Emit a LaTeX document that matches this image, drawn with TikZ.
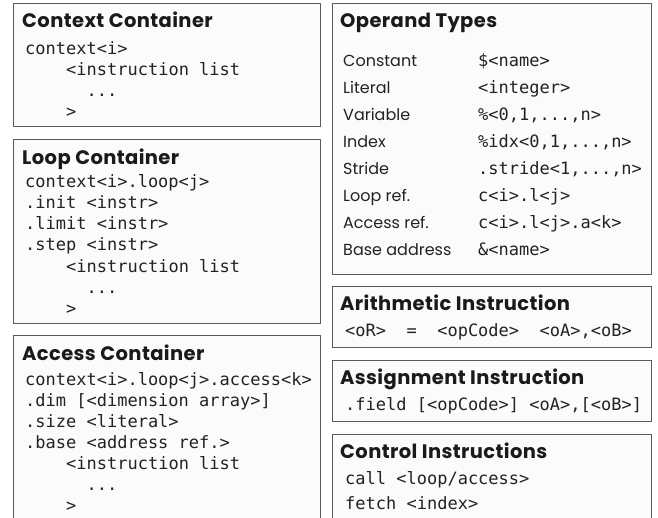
\documentclass[tikz,border=0pt]{standalone}
\usepackage{fontspec}
\setsansfont{Poppins}
\setmonofont{DejaVu Sans Mono}
\definecolor{bordc}{HTML}{5A5A5A}
\definecolor{boxfill}{HTML}{FBFBFB}
\definecolor{hdc}{HTML}{1A1A1A}
\definecolor{txc}{HTML}{222222}
\tikzset{
  box/.style={draw=bordc, line width=1.2bp, fill=boxfill, inner sep=0pt, anchor=north west},
  hd/.style={font=\sffamily\bfseries\fontsize{19.5bp}{22bp}\selectfont\addfontfeature{LetterSpace=2}, text=hdc, anchor=base west, inner sep=0pt},
  mono/.style={font=\ttfamily\fontsize{17bp}{20bp}\selectfont, text=txc, anchor=base west, inner sep=0pt},
  lbl/.style={font=\sffamily\fontsize{16bp}{20bp}\selectfont, text=txc, anchor=base west, inner sep=0pt},
}
\begin{document}
\begin{tikzpicture}[x=1bp,y=-1bp]
\useasboundingbox (0,0) rectangle (658,518);
% ---------- left column ----------
\node[box, minimum width=307bp, minimum height=123bp] (ctx) at (13,3) {};
\node[hd] (ctxh) at (22,28) {Context Container};
\node[mono] (c1) at (25,55) {context<i>};
\node[mono] (c2) at (66,76) {<instruction list};
\node[mono] (c3) at (86.5,97) {...};
\node[mono] (c4) at (66,118) {>};

\node[box, minimum width=307bp, minimum height=184bp] (loop) at (13,139) {};
\node[hd] (looph) at (22,165) {Loop Container};
\node[mono] (l1) at (25,188) {context<i>.loop<j>};
\node[mono] (l2) at (25,209) {.init <instr>};
\node[mono] (l3) at (25,230) {.limit <instr>};
\node[mono] (l4) at (25,251) {.step <instr>};
\node[mono] (l5) at (66,272) {<instruction list};
\node[mono] (l6) at (86.5,293) {...};
\node[mono] (l7) at (66,314) {>};

\node[box, minimum width=307bp, minimum height=200bp] (acc) at (13,335) {};
\node[hd] (acch) at (22,360) {Access Container};
\node[mono] (a1) at (25,385) {context<i>.loop<j>.access<k>};
\node[mono] (a2) at (25,406) {.dim [<dimension array>]};
\node[mono] (a3) at (25,427) {.size <literal>};
\node[mono] (a4) at (25,448) {.base <address ref.>};
\node[mono] (a5) at (66,469) {<instruction list};
\node[mono] (a6) at (86.5,490) {...};
\node[mono] (a7) at (66,511) {>};
% ---------- right column ----------
\node[box, minimum width=319bp, minimum height=271bp] (op) at (332,3) {};
\node[hd] (oph) at (340,28) {Operand Types};
\node[lbl] (o1l) at (343,67) {Constant};
\node[mono] (o1v) at (478,67) {\$<name>};
\node[lbl] (o2l) at (343,94) {Literal};
\node[mono] (o2v) at (478,94) {<integer>};
\node[lbl] (o3l) at (343,121) {Variable};
\node[mono] (o3v) at (478,121) {\%<0,1,...,n>};
\node[lbl] (o4l) at (343,148) {Index};
\node[mono] (o4v) at (478,148) {\%idx<0,1,...,n>};
\node[lbl] (o5l) at (343,175) {Stride};
\node[mono] (o5v) at (478,175) {.stride<1,...,n>};
\node[lbl] (o6l) at (343,202) {Loop ref.};
\node[mono] (o6v) at (478,202) {c<i>.l<j>};
\node[lbl] (o7l) at (343,229) {Access ref.};
\node[mono] (o7v) at (478,229) {c<i>.l<j>.a<k>};
\node[lbl] (o8l) at (343,256) {Base address};
\node[mono] (o8v) at (478,256) {\&<name>};

\node[box, minimum width=319bp, minimum height=61bp] (ari) at (332,286) {};
\node[hd] (arih) at (340,310) {Arithmetic Instruction};
\node[mono] (ari1) at (345,336) {<oR>~~=~~<opCode>~~<oA>,<oB>};

\node[box, minimum width=319bp, minimum height=61bp] (asg) at (332,360) {};
\node[hd] (asgh) at (340,384) {Assignment Instruction};
\node[mono] (asg1) at (345,410) {.field [<opCode>] <oA>,[<oB>]};

\node[box, minimum width=319bp, minimum height=100bp] (ctl) at (332,434) {};
\node[hd] (ctlh) at (340,458) {Control Instructions};
\node[mono] (ctl1) at (345,484) {call <loop/access>};
\node[mono] (ctl2) at (345,509) {fetch <index>};
\end{tikzpicture}
\end{document}
